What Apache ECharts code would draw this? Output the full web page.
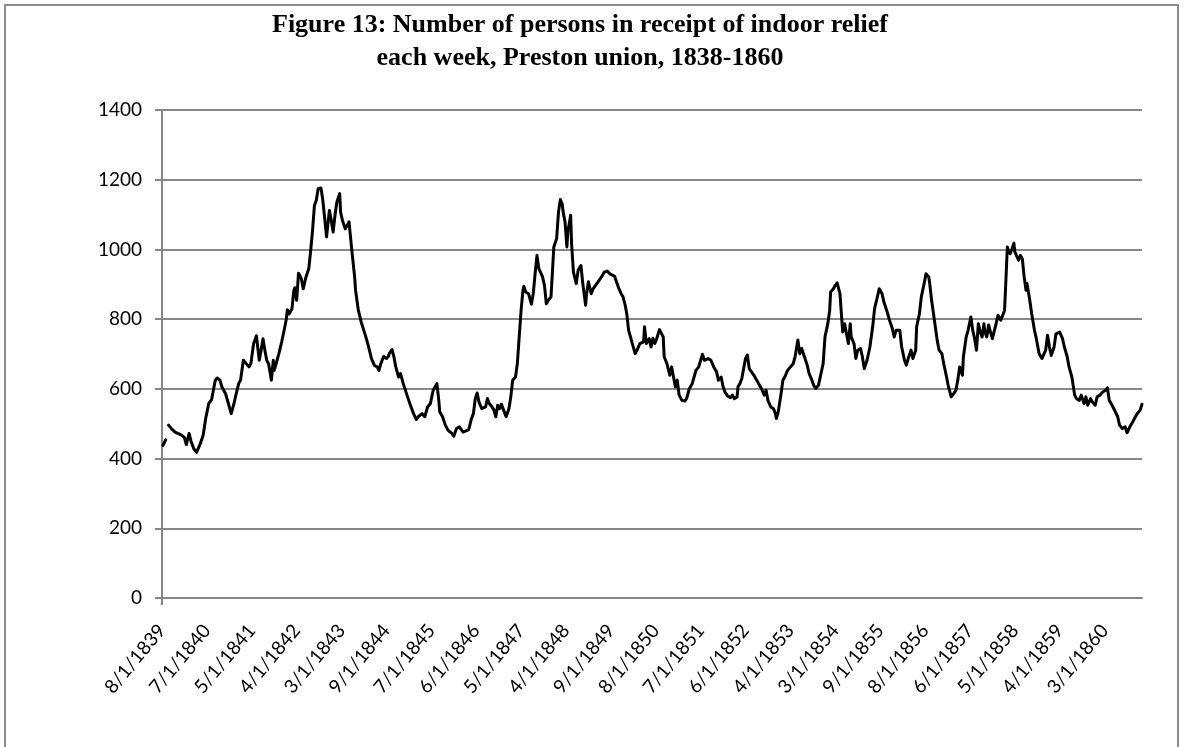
<!DOCTYPE html>
<html>
<head>
<meta charset="utf-8">
<title>Preston union indoor relief</title>
<script src="https://cdn.jsdelivr.net/npm/echarts@6/dist/echarts.min.js"></script>
<style>
  html, body { margin: 0; padding: 0; background: #fff; }
  #chart { width: 1185px; height: 747px; }
</style>
</head>
<body>
<div id="chart"></div>
<script>
// Chart title (two lines)
const titleLines = [
  'Figure 13: Number of persons in receipt of indoor relief',
  'each week, Preston union, 1838-1860'
];

// Dates printed under the x axis, one every 48 weekly returns
const dateLabels = [
  '8/1/1839', '7/1/1840', '5/1/1841', '4/1/1842', '3/1/1843', '9/1/1844',
  '7/1/1845', '6/1/1846', '5/1/1847', '4/1/1848', '9/1/1849', '8/1/1850',
  '7/1/1851', '6/1/1852', '4/1/1853', '3/1/1854', '9/1/1855', '8/1/1856',
  '6/1/1857', '5/1/1858', '4/1/1859', '3/1/1860'
];
const labelEvery = 48;   // weekly returns between printed dates
const lastWeek = 1048;   // index of the final weekly return

// y axis range
const yTicks = [0, 200, 400, 600, 800, 1000, 1200, 1400];

// [weekly return number, persons relieved indoors]; null marks missing returns
const readings = [
  [1,438],[4,454],[5,null],[7,496],[10,486],[14,476],[21,467],[24,460],[26,440],[29,472],
  [31,450],[34,428],[37,418],[39,420],[41,443],[44,467],[47,519],[50,558],[53,569],[55,572],
  [57,625],[59,631],[62,625],[64,606],[68,586],[71,558],[74,529],[77,558],[79,582],[82,615],
  [84,625],[87,682],[89,687],[93,663],[95,672],[98,730],[101,752],[102,751],[104,682],[106,711],
  [108,744],[110,711],[112,682],[114,672],[117,625],[119,682],[120,653],[122,672],[125,701],[128,735],
  [131,773],[133,801],[134,827],[136,815],[139,830],[141,883],[142,890],[144,854],[146,932],[149,916],
  [151,887],[154,921],[157,945],[159,997],[161,1055],[163,1126],[165,1141],[167,1174],[170,1176],[172,1141],
  [174,1088],[176,1036],[179,1112],[181,1083],[183,1050],[185,1098],[187,1136],[190,1160],[191,1107],[193,1083],
  [196,1059],[198,1069],[200,1079],[203,997],[206,921],[207,883],[210,825],[213,792],[215,787],[218,749],
  [221,720],[224,687],[227,668],[230,663],[232,653],[234,672],[237,693],[240,687],[242,693],[243,701],
  [246,713],[248,692],[250,663],[253,634],[255,644],[258,615],[262,582],[265,558],[269,529],[272,512],
  [274,520],[278,529],[281,520],[284,548],[287,558],[290,596],[294,615],[296,567],[297,534],[300,520],
  [303,496],[306,481],[310,472],[312,464],[315,486],[318,491],[322,476],[324,474],[328,483],[331,515],
  [333,529],[335,572],[337,588],[339,562],[342,543],[346,548],[348,572],[350,558],[353,548],[355,539],
  [357,520],[359,553],[361,543],[363,556],[366,534],[368,520],[371,543],[373,577],[375,625],[378,634],
  [380,672],[382,749],[384,825],[386,883],[387,894],[389,878],[392,873],[395,843],[397,873],[399,930],
  [401,983],[403,945],[405,940],[407,921],[409,897],[411,844],[413,854],[416,864],[418,868],[419,1007],
  [422,1031],[424,1107],[426,1143],[428,1131],[429,1107],[431,1079],[433,1007],[434,1050],[437,1098],[438,1016],
  [440,935],[443,902],[445,940],[448,954],[450,902],[453,840],[454,873],[456,907],[459,873],[461,887],
  [463,883],[465,902],[467,897],[470,921],[473,935],[476,938],[479,930],[481,928],[484,923],[486,907],
  [488,892],[491,873],[493,864],[495,844],[497,816],[499,768],[501,749],[504,720],[506,701],[508,711],
  [511,730],[513,725],[515,735],[516,778],[518,730],[521,744],[523,720],[525,745],[527,730],[529,744],
  [532,770],[534,773],[536,749],[537,692],[540,672],[543,639],[545,663],[547,634],[549,606],[551,625],
  [553,582],[556,567],[559,565],[561,572],[564,601],[567,615],[569,620],[571,653],[574,663],[576,682],
  [578,699],[580,682],[582,687],[584,687],[587,682],[589,677],[590,663],[593,649],[595,625],[598,634],
  [600,606],[602,591],[605,579],[608,575],[610,582],[612,572],[615,577],[616,606],[618,615],[620,629],
  [622,634],[624,687],[626,697],[628,658],[630,653],[633,639],[636,625],[639,610],[641,601],[644,582],
  [646,596],[648,567],[651,548],[654,543],[656,529],[657,515],[659,534],[662,586],[664,625],[666,634],
  [669,653],[672,663],[675,672],[677,692],[680,740],[682,701],[684,716],[687,692],[690,668],[692,644],
  [695,625],[697,610],[699,601],[702,610],[704,610],[707,672],[709,749],[712,787],[714,825],[715,878],
  [718,887],[720,897],[722,904],[724,883],[725,873],[727,797],[728,763],[730,787],[732,758],[734,730],
  [736,787],[737,749],[740,730],[742,687],[744,711],[747,716],[749,692],[751,658],[754,682],[757,720],
  [760,778],[762,830],[765,864],[767,887],[770,873],[772,849],[775,825],[778,797],[781,773],[783,749],
  [785,768],[787,773],[789,768],[791,720],[794,682],[796,668],[798,687],[801,711],[803,687],[806,711],
  [807,778],[810,816],[812,864],[815,902],[817,930],[820,921],[821,902],[823,854],[826,797],[829,739],
  [831,711],[834,701],[836,672],[839,634],[841,606],[844,577],[847,588],[849,596],[851,625],[853,663],
  [856,639],[857,692],[860,749],[862,768],[864,773],[865,806],[867,768],[869,744],[871,711],[873,787],
  [875,763],[877,749],[879,787],[880,763],[882,749],[884,783],[886,763],[888,744],[890,739],[892,787],
  [894,811],[897,797],[899,801],[901,825],[902,883],[904,1007],[905,997],[907,988],[909,1002],[911,1018],
  [912,993],[914,997],[916,969],[918,983],[920,973],[922,921],[924,883],[925,902],[928,854],[930,816],
  [933,768],[935,744],[936,749],[938,701],[941,687],[943,692],[945,711],[947,754],[949,720],[951,696],
  [954,720],[956,758],[958,754],[960,763],[963,744],[965,720],[968,692],[970,663],[973,634],[976,582],
  [978,572],[981,567],[983,582],[986,558],[988,577],[990,553],[993,572],[995,562],[998,553],[1000,577],
  [1003,582],[1006,591],[1009,596],[1011,603],[1013,567],[1015,558],[1017,548],[1019,553],[1022,520],[1024,496],
  [1027,486],[1030,491],[1032,474],[1035,491],[1038,505],[1040,515],[1043,529],[1046,539],[1048,556]
];

const gridGrey = '#878787';
const labelFont = 'Lato, "Open Sans", sans-serif';

const chart = echarts.init(document.getElementById('chart'), null, { renderer: 'canvas' });

chart.setOption({
  animation: false,
  backgroundColor: '#ffffff',
  graphic: [
    {
      type: 'rect',
      shape: { x: 5, y: 5, width: 1173, height: 760 },
      style: { fill: 'none', stroke: '#8c8c8c', lineWidth: 2 },
      silent: true
    },
    {
      type: 'text',
      x: 580,
      y: 9,
      style: {
        text: titleLines.join('\n'),
        fontFamily: '"Liberation Serif", "Times New Roman", serif',
        fontWeight: 'bold',
        fontSize: 26,
        lineHeight: 33,
        align: 'center',
        verticalAlign: 'top',
        fill: '#000'
      },
      silent: true
    }
  ],
  grid: {
    left: 162,
    right: 43,
    top: 110,
    bottom: 149,
    outerBoundsMode: 'none',
    containLabel: false
  },
  xAxis: {
    type: 'value',
    min: 0,
    max: lastWeek,
    interval: labelEvery,
    splitLine: { show: false },
    axisLine: { show: true, lineStyle: { color: gridGrey, width: 2 } },
    axisTick: { show: true, customValues: [0], length: 7, lineStyle: { color: gridGrey, width: 2 } },
    axisLabel: {
      rotate: 50,
      margin: 29,
      showMaxLabel: false,
      color: '#000',
      fontFamily: labelFont,
      fontSize: 19,
      formatter: function (v) {
        const i = Math.round(v / labelEvery);
        return (v % labelEvery === 0 && dateLabels[i]) ? dateLabels[i] : '';
      }
    }
  },
  yAxis: {
    type: 'value',
    min: yTicks[0],
    max: yTicks[yTicks.length - 1],
    interval: yTicks[1] - yTicks[0],
    splitLine: { show: true, lineStyle: { color: gridGrey, width: 2 } },
    axisLine: { show: true, lineStyle: { color: gridGrey, width: 2 } },
    axisTick: { show: true, length: 7, lineStyle: { color: gridGrey, width: 2 } },
    axisLabel: {
      margin: 20,
      color: '#000',
      fontFamily: labelFont,
      fontSize: 19,
      formatter: function (v) { return String(v); }
    }
  },
  series: [
    {
      type: 'line',
      data: readings,
      showSymbol: false,
      connectNulls: false,
      lineStyle: { color: '#000', width: 3, join: 'round', cap: 'round' },
      z: 5
    }
  ]
});
</script>
</body>
</html>
